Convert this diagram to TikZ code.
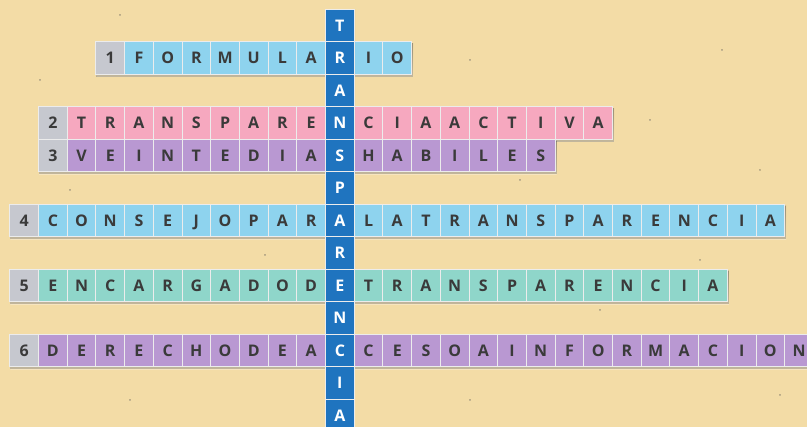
\documentclass[tikz,border=0pt]{standalone}
\usepackage{fontspec}
\setmainfont{Open Sans}
\definecolor{bg}{HTML}{F3DCA6}
\definecolor{numgrey}{HTML}{C6C8CF}
\definecolor{lblue}{HTML}{8ED3EE}
\definecolor{pink}{HTML}{F6A8BF}
\definecolor{lilac}{HTML}{B998D2}
\definecolor{teal}{HTML}{8FD6CA}
\definecolor{vblue}{HTML}{1F74BF}
\definecolor{txt}{HTML}{3A3A3A}
\definecolor{shade}{HTML}{7A6440}
\newcommand\xrow[5]{% #1 number, #2 vertical index, #3 first letter k, #4 last letter k, #5 fill, then letters
  \fill[shade,opacity=0.3] ({325+(#3-1)*28.7+1},{9+#2*32.5+2}) rectangle ({325+(#4+1)*28.7+2},{9+(#2+1)*32.5+3});
  \node[numcell] (n#1) at ({325+(#3-1)*28.7},{9+#2*32.5}) {#1};
  \def\rowfill{#5}%
  \def\rowv{#2}\def\rowk{#3}\def\rown{#1}%
  \xrowletters}
\newcommand\xrowletters[1]{%
  \foreach \L [count=\i from 0] in {#1} {%
    \pgfmathtruncatemacro\kk{\rowk+\i}%
    \ifnum\kk=0\relax\else
      \node[cell,fill=\rowfill] (w\rown c\i) at ({325+\kk*28.7},{9+\rowv*32.5}) {\L};
    \fi}}
\begin{document}
\begin{tikzpicture}[x=1pt,y=-1pt,
  cell/.style={draw=white!85!gray, line width=1pt, minimum width=28.7pt, minimum height=32.5pt,
    inner sep=0pt, anchor=north west, text height=11.5pt, text depth=0pt,
    font=\bfseries\fontsize{16}{16}\selectfont, text=txt},
  numcell/.style={cell, fill=numgrey},
  vcell/.style={cell, fill=vblue, text=white}]
\useasboundingbox (0,0) rectangle (807,427);
\clip (0,0) rectangle (807,427);
\fill[bg] (0,0) rectangle (807,427);
% faint speckles
\foreach \p in {(120,15),(470,60),(722,50),(650,120),(760,170),(520,180),(70,190),(230,300),(600,310),(780,395),(470,400),(130,400),(40,80),(700,260),(265,255)}
  \fill[shade,opacity=0.35] \p circle (0.9);
% horizontal words
\xrow{1}{1}{-7}{2}{lblue}{F,O,R,M,U,L,A,R,I,O}
\xrow{2}{3}{-9}{9}{pink}{T,R,A,N,S,P,A,R,E,N,C,I,A,A,C,T,I,V,A}
\xrow{3}{4}{-9}{7}{lilac}{V,E,I,N,T,E,D,I,A,S,H,A,B,I,L,E,S}
\xrow{4}{6}{-10}{15}{lblue}{C,O,N,S,E,J,O,P,A,R,A,L,A,T,R,A,N,S,P,A,R,E,N,C,I,A}
\xrow{5}{8}{-10}{13}{teal}{E,N,C,A,R,G,A,D,O,D,E,T,R,A,N,S,P,A,R,E,N,C,I,A}
\xrow{6}{10}{-10}{16}{lilac}{D,E,R,E,C,H,O,D,E,A,C,C,E,S,O,A,I,N,F,O,R,M,A,C,I,O,N}
% vertical word
\fill[shade,opacity=0.3] (326,10) rectangle (355,435);
\foreach \L [count=\i from 0] in {T,R,A,N,S,P,A,R,E,N,C,I,A}
  \node[vcell] (v\i) at (325,{9+\i*32.5}) {\L};
\end{tikzpicture}
\end{document}
